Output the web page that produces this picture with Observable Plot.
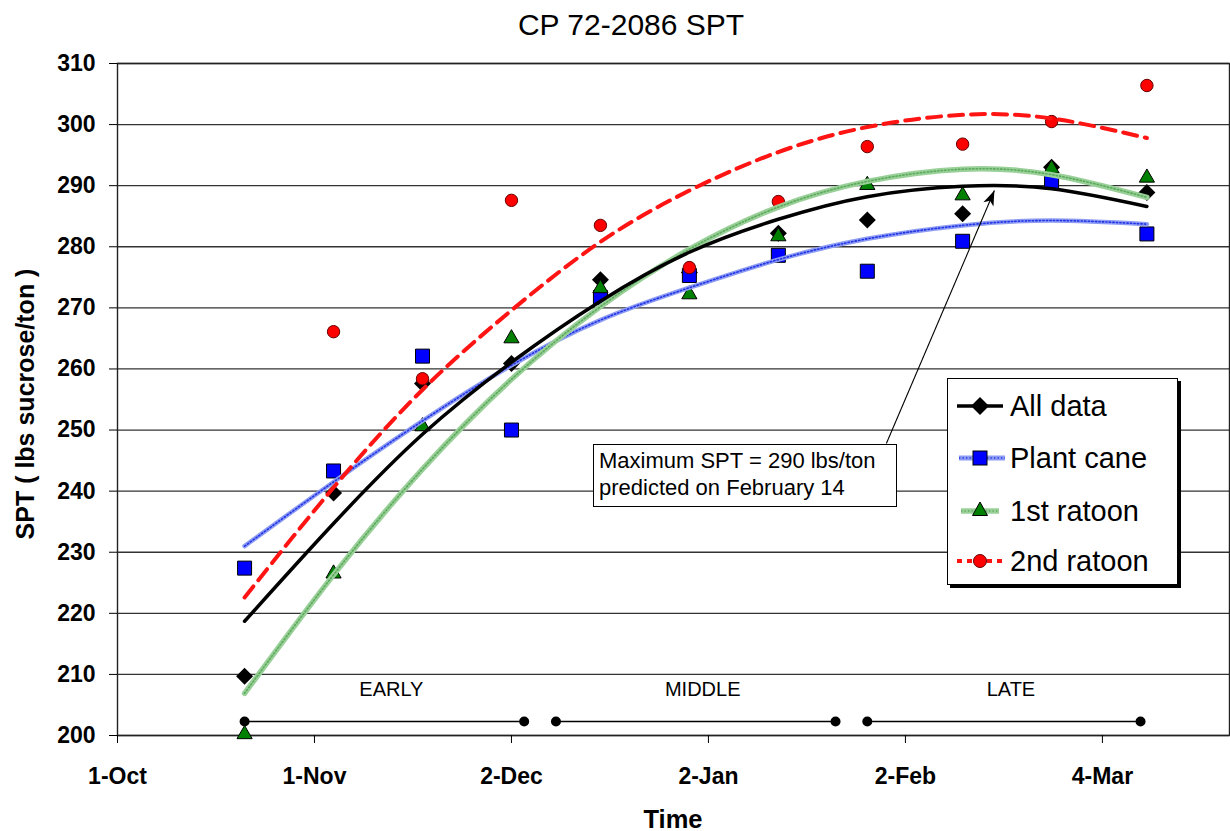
<!DOCTYPE html>
<html>
<head>
<meta charset="utf-8">
<script src="https://cdn.jsdelivr.net/npm/d3@7"></script>
<script src="https://cdn.jsdelivr.net/npm/@observablehq/plot@0.6"></script>
<style>
  html, body { margin: 0; padding: 0; background: #fff; }
  body { font-family: "Liberation Sans", Arial, sans-serif; color: #000; }
  #wrap { position: relative; width: 1230px; height: 831px; overflow: hidden; }
  #chart { position: absolute; left: 0; top: 0; }
  .t { position: absolute; white-space: nowrap; text-align: center; }
  #title { left: 431px; width: 400px; top: 9.5px; font-size: 30px; line-height: 30px; }
  #ytitle { left: 25px; top: 404px; font-size: 25px; line-height: 25px; font-weight: bold;
            transform: translate(-50%, -50%) rotate(-90deg); }
  #xtitle { left: 573px; width: 200px; top: 806.5px; font-size: 25.5px; line-height: 25.5px; font-weight: bold; }
  #note { position: absolute; left: 593px; top: 444px; width: 304px; height: 63px; box-sizing: border-box;
          border: 1.5px solid #000; background: #fff; font-size: 22px; line-height: 27px;
          padding: 2px 0 0 5px; white-space: nowrap; }
  #legend { position: absolute; left: 947px; top: 378px; width: 231px; height: 207px; box-sizing: border-box;
            border: 1.5px solid #000; background: #fff; box-shadow: 3px 3px 0 #000; }
  .entry { position: absolute; left: 0; height: 30px; }
  .entry svg { position: absolute; left: 9px; top: 0; }
  .entry span { position: absolute; left: 62px; top: 1px; font-size: 29px; line-height: 29px; white-space: nowrap; }
</style>
</head>
<body>
<div id="wrap">
  <div id="chart"></div>
  <div class="t" id="title">CP 72-2086 SPT</div>
  <div class="t" id="ytitle">SPT ( lbs sucrose/ton )</div>
  <div class="t" id="xtitle">Time</div>
  <div id="note">Maximum SPT = 290 lbs/ton<br>predicted on February 14</div>
  <div id="legend"></div>
</div>
<script>
// ---------------- data ----------------
const sampleDates = ["2003-10-21","2003-11-04","2003-11-18","2003-12-02","2003-12-16","2003-12-30",
                     "2004-01-13","2004-01-27","2004-02-11","2004-02-25","2004-03-11"];

const seriesNames = ["All data", "Plant cane", "1st ratoon", "2nd ratoon"];

// observed SPT values
const allData   = [209.7, 239.7, 257.6, 260.9, 274.6, 275.8, 282.2, 284.4, 285.4, 293.0, 288.9];
const plantCane = [227.4, 243.3, 262.1, 250.0, 271.7, 275.3, 278.6, 276.0, 280.9, 290.6, 282.1];
const ratoon1   = [200.2, 226.5, 250.6, 265.0, 273.2, 272.2, 281.7, 290.1, 288.4, 292.8, 291.3];
const ratoon2   = [null,  266.1, 258.4, 287.6, 283.5, 276.6, 287.4, 296.4, 296.8, 300.5, 306.4];

// trend-line values at the sample dates
const trendAll   = [218.7, 234.7, 249.3, 261.1, 271.1, 279.1, 284.5, 288.2, 289.9, 289.5, 286.6];
const trendPlant = [231.0, 241.5, 251.5, 260.6, 268.0, 273.3, 277.9, 281.3, 283.5, 284.3, 283.7];
const trendR1    = [206.9, 226.3, 243.6, 258.3, 270.2, 279.6, 286.5, 290.7, 292.7, 291.8, 288.1];
const trendR2    = [222.6, 240.6, 256.6, 269.6, 280.8, 289.2, 295.5, 299.6, 301.6, 301.0, 297.8];

// harvest periods
const phaseNames = ["EARLY", "MIDDLE", "LATE"];
const phaseStart = ["2003-10-21", "2003-12-09", "2004-01-27"];
const phaseEnd   = ["2003-12-04", "2004-01-22", "2004-03-10"];
const phaseLevel = 202.3;

// annotation arrow (from the note box to the predicted maximum)
const arrowFromDate = "2004-01-30", arrowFromValue = 247.8;
const arrowToDate = "2004-02-16",   arrowToValue = 289.2;

// axes
const xDomain = ["2003-10-01", "2004-03-24"];
const xTickDates = ["2003-10-01","2003-11-01","2003-12-02","2004-01-02","2004-02-02","2004-03-04"];
const yDomain = [200, 310];
const yTicks = [200, 210, 220, 230, 240, 250, 260, 270, 280, 290, 300, 310];

// ---------------- helpers ----------------
const toDate = s => new Date(s + "T00:00:00Z");
const rows = vals => sampleDates.map((d, i) => ({date: toDate(d), value: vals[i]})).filter(r => r.value != null);

const radiusOf = s => Math.sqrt(s / Math.PI);
const symDiamond = {draw(c, s) { const r = radiusOf(s); c.moveTo(0, -r); c.lineTo(r, 0); c.lineTo(0, r); c.lineTo(-r, 0); c.closePath(); }};
const symSquare = {draw(c, s) { const r = radiusOf(s); c.moveTo(-r, -r); c.lineTo(r, -r); c.lineTo(r, r); c.lineTo(-r, r); c.closePath(); }};
const symTriangle = {draw(c, s) { const r = radiusOf(s), h = r * Math.sqrt(3); c.moveTo(0, -2 * h / 3); c.lineTo(r, h / 3); c.lineTo(-r, h / 3); c.closePath(); }};
const symArrowHead = {draw(c, s) { c.moveTo(0, 0); c.lineTo(5.5, 15); c.lineTo(0, 11); c.lineTo(-5.5, 15); c.closePath(); }};

const phases = phaseNames.map((n, i) => ({name: n, start: toDate(phaseStart[i]), end: toDate(phaseEnd[i]), level: phaseLevel}));
const phaseEnds = phases.flatMap(p => [{date: p.start, level: p.level}, {date: p.end, level: p.level}]);
const mid = p => new Date((+p.start + +p.end) / 2);
const arrow = [{x1: toDate(arrowFromDate), y1: arrowFromValue, x2: toDate(arrowToDate), y2: arrowToValue}];

const curve = "natural";

const chart = Plot.plot({
  width: 1230,
  height: 831,
  marginTop: 63,
  marginBottom: 96,
  marginLeft: 117,
  marginRight: 1,
  style: {fontFamily: "'Liberation Sans', Arial, sans-serif", fontSize: "23px", fontWeight: "bold", background: "transparent", color: "#000"},
  x: {type: "utc", domain: xDomain.map(toDate)},
  y: {domain: yDomain},
  marks: [
    Plot.gridY(yTicks, {stroke: "#333", strokeOpacity: 1, strokeWidth: 1.3}),
    Plot.frame({stroke: "#222", strokeWidth: 1.4}),
    Plot.axisY({ticks: yTicks, tickSize: 8, tickPadding: 14, label: null, stroke: "#000"}),
    Plot.axisX({ticks: xTickDates.map(toDate), tickFormat: d3.utcFormat("%-d-%b"), tickSize: 8, tickPadding: 24, label: null, stroke: "#000"}),

    // harvest period bars
    Plot.link(phases, {x1: "start", x2: "end", y1: "level", y2: "level", stroke: "#000", strokeWidth: 1.4}),
    Plot.dot(phaseEnds, {x: "date", y: "level", r: 5, fill: "#000", stroke: "none"}),
    Plot.text(phases, {x: mid, text: "name", frameAnchor: "bottom", dy: -40, dx: 7, fontSize: 20, fontWeight: "normal", fill: "#000"}),

    // observed points
    Plot.dot(rows(allData), {x: "date", y: "value", symbol: symDiamond, r: 8.5, fill: "#000", stroke: "none"}),
    Plot.dot(rows(plantCane), {x: "date", y: "value", symbol: symSquare, r: 7, fill: "#0000ff", stroke: "#000", strokeWidth: 1}),
    Plot.dot(rows(ratoon1), {x: "date", y: "value", symbol: symTriangle, r: 7.6, fill: "#008000", stroke: "#000", strokeWidth: 1}),
    Plot.dot(rows(ratoon2), {x: "date", y: "value", r: 6.2, fill: "#ff0000", stroke: "#600", strokeWidth: 1}),

    // trend lines
    Plot.line(rows(trendPlant), {x: "date", y: "value", curve, stroke: "#8d9cf2", strokeWidth: 4.5}),
    Plot.line(rows(trendPlant), {x: "date", y: "value", curve, stroke: "#2233e6", strokeWidth: 1.6, strokeDasharray: "1.3,2.2"}),
    Plot.line(rows(trendR1), {x: "date", y: "value", curve, stroke: "#98d098", strokeWidth: 5.5}),
    Plot.line(rows(trendR1), {x: "date", y: "value", curve, stroke: "#5da85d", strokeWidth: 1.6, strokeDasharray: "1.3,2.2"}),
    Plot.line(rows(trendAll), {x: "date", y: "value", curve, stroke: "#000", strokeWidth: 3.5}),
    Plot.line(rows(trendR2), {x: "date", y: "value", curve, stroke: "#ff1414", strokeWidth: 4, strokeDasharray: "14,8"}),

    // annotation arrow
    Plot.link(arrow, {x1: "x1", y1: "y1", x2: "x2", y2: "y2", stroke: "#000", strokeWidth: 1.1}),
    Plot.dot(arrow, {x: "x2", y: "y2", symbol: symArrowHead, r: 5, rotate: 23.5, fill: "#000", stroke: "none"})
  ]
});
document.getElementById("chart").appendChild(chart);

// ---------------- legend ----------------
const legendSymbols = [
  `<line x1="0" y1="15" x2="46" y2="15" stroke="#000" stroke-width="3.5"/>
   <path d="M23,6 L32,15 L23,24 L14,15 Z" fill="#000"/>`,
  `<line x1="2" y1="15" x2="48" y2="15" stroke="#8d9cf2" stroke-width="5"/>
   <line x1="2" y1="15" x2="48" y2="15" stroke="#2233e6" stroke-width="1.6" stroke-dasharray="1.3,2.2"/>
   <rect x="16" y="8" width="14" height="14" fill="#0000ff" stroke="#000" stroke-width="1"/>`,
  `<line x1="4" y1="15" x2="42" y2="15" stroke="#98d098" stroke-width="5.5"/>
   <line x1="4" y1="15" x2="42" y2="15" stroke="#5da85d" stroke-width="1.6" stroke-dasharray="1.3,2.2"/>
   <path d="M23,6 L30.5,19.5 L15.5,19.5 Z" fill="#008000" stroke="#000" stroke-width="1"/>`,
  `<line x1="0" y1="15" x2="46" y2="15" stroke="#ff1414" stroke-width="4" stroke-dasharray="5,5"/>
   <circle cx="23" cy="15" r="6.5" fill="#ff0000" stroke="#600" stroke-width="1"/>`
];
const rowCenters = [27, 78.5, 131.5, 181.5];
const legend = document.getElementById("legend");
seriesNames.forEach((name, i) => {
  const e = document.createElement("div");
  e.className = "entry";
  e.style.top = (rowCenters[i] - 15) + "px";
  e.innerHTML = `<svg width="50" height="30">${legendSymbols[i]}</svg><span>${name}</span>`;
  legend.appendChild(e);
});
</script>
</body>
</html>
